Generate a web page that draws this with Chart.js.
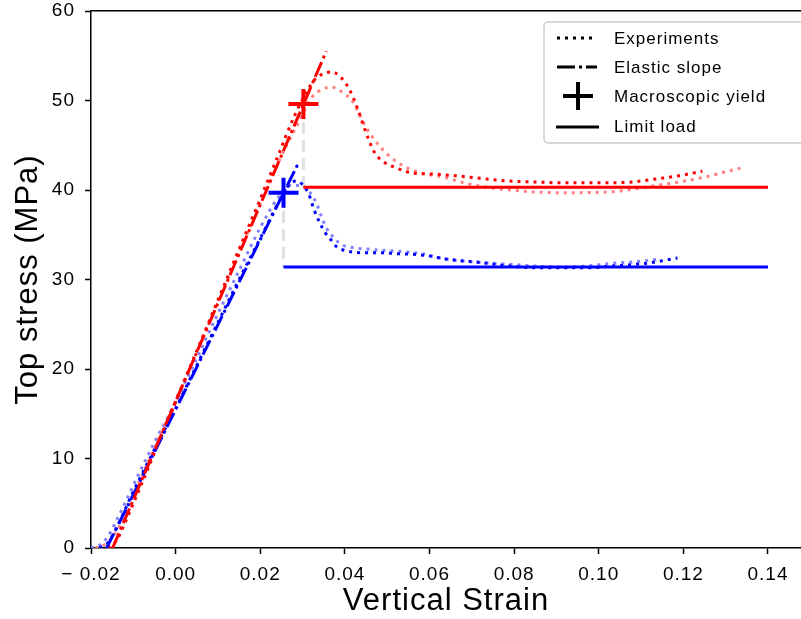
<!DOCTYPE html>
<html>
<head>
<meta charset="utf-8">
<script src="https://cdn.jsdelivr.net/npm/chart.js@4.4.1/dist/chart.umd.min.js"></script>
<style>
  html, body { margin: 0; padding: 0; background: #fff; }
  #wrap { width: 801px; height: 619px; }
</style>
</head>
<body>
<div id="wrap"><canvas id="chart" width="801" height="619"></canvas></div>
<script>
// Ejes
const xTickValues = [-0.02, 0.00, 0.02, 0.04, 0.06, 0.08, 0.10, 0.12, 0.14];
const xTickLabels = ['\u2212 0.02', '0.00', '0.02', '0.04', '0.06', '0.08', '0.10', '0.12', '0.14'];
const yTickValues = [0, 10, 20, 30, 40, 50, 60];
const yTickLabels = ['0', '10', '20', '30', '40', '50', '60'];

// Ensayos (rojo)
const redExpStrain = [-0.0160, -0.0140, -0.0120, -0.0080, -0.0040, 0.0000, 0.0050, 0.0100, 0.0150, 0.0200, 0.0240, 0.0280, 0.0310, 0.0330, 0.0350, 0.0370, 0.0390, 0.0410, 0.0430, 0.0450, 0.0470, 0.0490, 0.0520, 0.0560, 0.0600, 0.0660, 0.0720, 0.0790, 0.0850, 0.0910, 0.0970, 0.1020, 0.1080, 0.1130, 0.1190, 0.1245];
const redExpStress = [0, 0.8, 2.8, 7.2, 11.8, 16.3, 22.0, 27.7, 33.4, 39.0, 43.6, 48.2, 51.0, 52.4, 53.0, 53.2, 52.6, 51.3, 49.1, 46.4, 44.2, 43.2, 42.5, 41.9, 41.8, 41.6, 41.3, 41.0, 40.9, 40.8, 40.8, 40.8, 40.9, 41.2, 41.6, 42.1];
const pinkExpStrain = [-0.0190, -0.0170, -0.0150, -0.0120, -0.0080, -0.0040, 0.0000, 0.0050, 0.0100, 0.0150, 0.0200, 0.0250, 0.0290, 0.0321, 0.0349, 0.0368, 0.0385, 0.0400, 0.0415, 0.0434, 0.0450, 0.0472, 0.0486, 0.0510, 0.0542, 0.0580, 0.0637, 0.0690, 0.0790, 0.0910, 0.1030, 0.1120, 0.1226, 0.1340];
const pinkExpStress = [0, 0.3, 1.2, 3.6, 8.0, 12.2, 16.5, 22.0, 27.5, 33.0, 38.5, 43.8, 47.5, 50.3, 51.3, 51.5, 51.2, 50.7, 50.1, 48.5, 47.0, 45.5, 44.7, 43.6, 42.6, 41.9, 41.4, 40.7, 40.0, 39.7, 39.8, 40.4, 41.2, 42.5];

// Ensayos (azul)
const blueExpStrain = [-0.0180, -0.0160, -0.0140, -0.0100, -0.0050, 0.0000, 0.0050, 0.0100, 0.0150, 0.0200, 0.0240, 0.0265, 0.0285, 0.0300, 0.0314, 0.0328, 0.0340, 0.0354, 0.0366, 0.0377, 0.0396, 0.0440, 0.0486, 0.0520, 0.0590, 0.0637, 0.0720, 0.0790, 0.0850, 0.0910, 0.0970, 0.1030, 0.1110, 0.1186];
const blueExpStress = [0, 0.6, 2.2, 6.3, 11.0, 15.6, 20.4, 25.2, 30.0, 34.6, 38.3, 40.4, 41.0, 40.6, 39.6, 37.7, 36.4, 35.2, 34.5, 33.8, 33.3, 33.0, 33.0, 32.9, 32.7, 32.3, 31.9, 31.5, 31.3, 31.3, 31.3, 31.5, 31.8, 32.4];
const lblueExpStrain = [-0.0200, -0.0180, -0.0160, -0.0130, -0.0090, -0.0050, 0.0000, 0.0050, 0.0100, 0.0150, 0.0200, 0.0240, 0.0270, 0.0297, 0.0314, 0.0333, 0.0344, 0.0356, 0.0373, 0.0392, 0.0415, 0.0479, 0.0580, 0.0637, 0.0720, 0.0790, 0.0850, 0.0910, 0.0970, 0.1030, 0.1090, 0.1146];
const lblueExpStress = [0, 0.3, 1.3, 4.0, 8.0, 11.8, 16.3, 21.2, 26.2, 31.0, 35.8, 39.0, 40.5, 40.5, 39.9, 38.5, 37.1, 35.8, 34.7, 33.9, 33.6, 33.3, 32.9, 32.3, 31.9, 31.7, 31.5, 31.4, 31.5, 31.8, 32.0, 32.3];

// Pendiente elastica, fluencia y carga limite
const redElasticStrain = [-0.0149, 0.0356];
const redElasticStress = [0, 55.5];
const blueElasticStrain = [-0.0163, 0.0288];
const blueElasticStress = [0, 42.8];
const redYield = [0.0302, 49.6];
const blueYield = [0.0255, 39.7];
const redLimitStrain = [0.0302, 0.14];
const redLimitStress = [40.3, 40.3];
const blueLimitStrain = [0.0255, 0.14];
const blueLimitStress = [31.4, 31.4];

const pts = (xs, ys) => xs.map((x, i) => ({ x, y: ys[i] }));

const RED = '#ff0000', PINK = '#ff8080', BLUE = '#0000ff', LBLUE = '#8080ff', GRAY = '#e0e0e0';
const DOT = [3, 5], DASHDOT = [16, 4, 3, 4], DASH = [12, 6];

const expLine = (data, color, order) => ({
    data, borderColor: color, borderWidth: 3, borderDash: DOT, pointRadius: 0,
    cubicInterpolationMode: 'monotone', fill: false, order
});
const plainLine = (data, color, dash, order) => ({
    data, borderColor: color, borderWidth: 3, borderDash: dash, pointRadius: 0, fill: false, order
});
const cross = (pt, color) => ({
    data: [{ x: pt[0], y: pt[1] }], showLine: false, pointStyle: 'cross',
    pointRadius: 15, pointBorderWidth: 4, pointBorderColor: color, borderColor: color, order: 0
});

// Leyenda dibujada dentro del area
const legendBox = {
    id: 'legendBox',
    afterDatasetsDraw(chart) {
        const ctx = chart.ctx;
        ctx.save();
        ctx.fillStyle = 'rgba(255,255,255,0.85)';
        ctx.strokeStyle = '#cccccc';
        ctx.lineWidth = 1.5;
        ctx.beginPath();
        ctx.roundRect(544, 22, 280, 121, 4);
        ctx.fill();
        ctx.stroke();

        ctx.strokeStyle = '#000';
        ctx.lineWidth = 3;
        ctx.setLineDash(DOT);
        ctx.beginPath(); ctx.moveTo(557, 38); ctx.lineTo(597, 38); ctx.stroke();
        ctx.setLineDash([18, 4, 3, 4]);
        ctx.beginPath(); ctx.moveTo(557, 67); ctx.lineTo(597, 67); ctx.stroke();
        ctx.setLineDash([]);
        ctx.lineWidth = 4;
        ctx.beginPath();
        ctx.moveTo(563, 96); ctx.lineTo(593, 96);
        ctx.moveTo(578, 82); ctx.lineTo(578, 110);
        ctx.stroke();
        ctx.lineWidth = 3;
        ctx.beginPath(); ctx.moveTo(556, 127); ctx.lineTo(599, 127); ctx.stroke();

        ctx.fillStyle = '#000';
        ctx.font = '17px "Liberation Sans", Arial, sans-serif';
        ctx.letterSpacing = '1px';
        ctx.textBaseline = 'middle';
        ctx.textAlign = 'left';
        ctx.fillText('Experiments', 614, 39);
        ctx.fillText('Elastic slope', 614, 68);
        ctx.fillText('Macroscopic yield', 614, 97);
        ctx.fillText('Limit load', 614, 127);
        ctx.restore();
    }
};

const spacing = {
    id: 'spacing',
    beforeLayout(chart) { chart.ctx.letterSpacing = '1px'; },
    beforeDraw(chart) { chart.ctx.letterSpacing = '1px'; }
};

Chart.defaults.font.family = '"Liberation Sans", Arial, sans-serif';
Chart.defaults.color = '#000';

const axisGrid = { display: true, drawOnChartArea: false, drawTicks: true, tickLength: 6, tickColor: '#000', tickWidth: 1.5 };
const axisBorder = { display: true, color: '#000', width: 1.5 };
const noPad = s => { s.paddingLeft = 0; s.paddingRight = 0; s.paddingTop = 0; s.paddingBottom = 0; };

new Chart(document.getElementById('chart'), {
    type: 'line',
    data: {
        datasets: [
            plainLine([{ x: redYield[0], y: redYield[1] }, { x: redYield[0], y: redLimitStress[0] }], GRAY, DASH, 6),
            plainLine([{ x: blueYield[0], y: blueYield[1] }, { x: blueYield[0], y: blueLimitStress[0] }], GRAY, DASH, 6),
            expLine(pts(pinkExpStrain, pinkExpStress), PINK, 5),
            expLine(pts(lblueExpStrain, lblueExpStress), LBLUE, 5),
            expLine(pts(redExpStrain, redExpStress), RED, 4),
            expLine(pts(blueExpStrain, blueExpStress), BLUE, 4),
            plainLine(pts(redElasticStrain, redElasticStress), RED, DASHDOT, 3),
            plainLine(pts(blueElasticStrain, blueElasticStress), BLUE, DASHDOT, 3),
            plainLine(pts(redLimitStrain, redLimitStress), RED, [], 2),
            plainLine(pts(blueLimitStrain, blueLimitStress), BLUE, [], 2),
            cross(redYield, RED),
            cross(blueYield, BLUE)
        ]
    },
    options: {
        responsive: false,
        animation: false,
        layout: { autoPadding: false, padding: { top: 11, right: 0, left: 0, bottom: 0 } },
        plugins: { legend: { display: false }, tooltip: { enabled: false } },
        scales: {
            x: {
                type: 'linear', position: 'bottom', min: -0.02, max: 0.1478,
                afterBuildTicks: s => { s.ticks = xTickValues.map(v => ({ value: v })); },
                afterFit: s => { s.height = 71; noPad(s); },
                ticks: { callback: (v, i) => xTickLabels[i], font: { size: 19 }, padding: 9, maxRotation: 0, autoSkip: false },
                grid: axisGrid, border: axisBorder,
                title: { display: true, text: 'Vertical Strain', font: { size: 31, lineHeight: 1.1 }, padding: { top: 0, bottom: 0 } }
            },
            x2: {
                type: 'linear', position: 'top', min: -0.02, max: 0.1478,
                afterFit: s => { s.height = 0; noPad(s); },
                ticks: { display: false }, grid: { display: false }, border: axisBorder
            },
            y: {
                min: 0, max: 60,
                afterBuildTicks: s => { s.ticks = yTickValues.map(v => ({ value: v })); },
                afterFit: s => { s.width = 91; noPad(s); },
                ticks: { callback: (v, i) => yTickLabels[i], font: { size: 19 }, padding: 10 },
                grid: axisGrid, border: axisBorder,
                title: { display: true, text: 'Top stress (MPa)', font: { size: 31, lineHeight: 1.1 }, padding: { top: 11, bottom: 0 } }
            }
        }
    },
    plugins: [spacing, legendBox]
});
</script>
</body>
</html>
